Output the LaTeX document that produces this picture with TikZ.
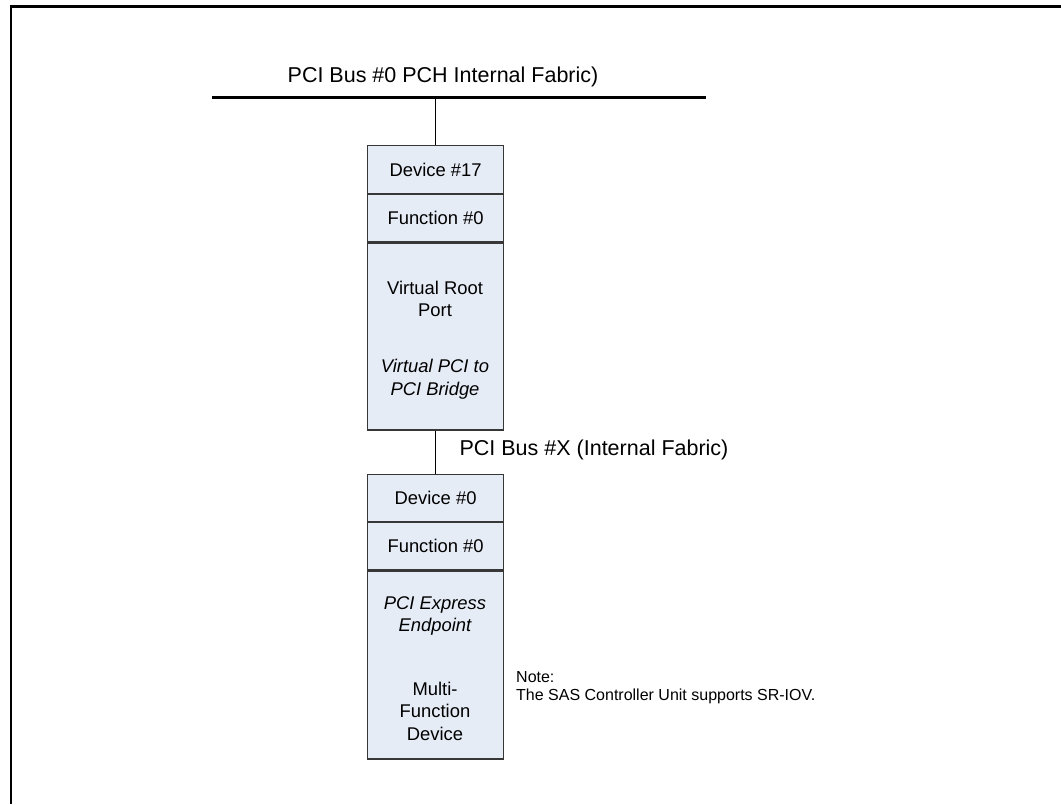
\documentclass[tikz,border=0pt]{standalone}
\usepackage{fontspec}
\setmainfont{Liberation Sans}
\usetikzlibrary{positioning}
\definecolor{cellfill}{RGB}{230,236,246}
\definecolor{cellline}{RGB}{55,55,55}

\begin{document}
\begin{tikzpicture}
      [x=1pt,y=-1pt
      ,cell/.style={draw=cellline,fill=cellfill,line width=1.2pt,minimum width=136pt,inner sep=0pt,font=\fontsize{18.4}{22}\selectfont}
      ,txt/.style={align=center,inner sep=0pt,font=\fontsize{18.4}{22.5}\selectfont}
      ,itx/.style={txt,font=\fontsize{18.4}{22.5}\selectfont\itshape}
      ,bus/.style={line width=2.7pt}
      ,lnk/.style={line width=1.4pt}
      ,lbl/.style={inner sep=0pt,font=\fontsize{21.5}{26}\selectfont}
      ]
        \useasboundingbox (0,0) rectangle (1061,804);
        \draw[line width=2.6pt] (11,804) -- (11,6.5) -- (1061,6.5);
        % bus #0
        \coordinate (busL) at (212,97.5);
        \coordinate (busR) at (706,97.5);
        \draw[bus] (busL) -- (busR);
        \node[lbl] (bus0) at (443,77) {PCI Bus \#0 PCH Internal Fabric)};
        % virtual root port
        \node[cell,minimum height=48pt,anchor=north west] (dev17) at (367,145) {Device \#17};
        \node[cell,minimum height=47pt,below=0pt of dev17] (fun17) {Function \#0};
        \node[cell,minimum height=187pt,below=0pt of fun17] (vrp) {};
        \node[txt] (vrptxt) at (435,299) {Virtual Root\\Port};
        \node[itx] (p2ptxt) at (435,379) {Virtual PCI to\\PCI Bridge};
        \draw[lnk] (dev17.north) -- (dev17.north |- busL);
        % bus #X
        \node[lbl] (busX) at (594,450) {PCI Bus \#X (Internal Fabric)};
        % endpoint
        \node[cell,minimum height=47pt,anchor=north west] (dev0) at (367,474) {Device \#0};
        \node[cell,minimum height=47pt,below=0pt of dev0] (fun0) {Function \#0};
        \node[cell,minimum height=188pt,below=0pt of fun0] (ep) {};
        \node[itx] (eptxt) at (435,616) {PCI Express\\Endpoint};
        \node[txt] (mfdtxt) at (435,711) {Multi-\\Function\\Device};
        \draw[lnk] (vrp.south) -- (dev0.north);
        % note
        \node[anchor=base west,align=left,inner sep=0pt,font=\fontsize{16}{17.5}\selectfont] (note) at (516,700)
          {Note:\\The SAS Controller Unit supports SR-IOV.};
      \end{tikzpicture}
\end{document}
